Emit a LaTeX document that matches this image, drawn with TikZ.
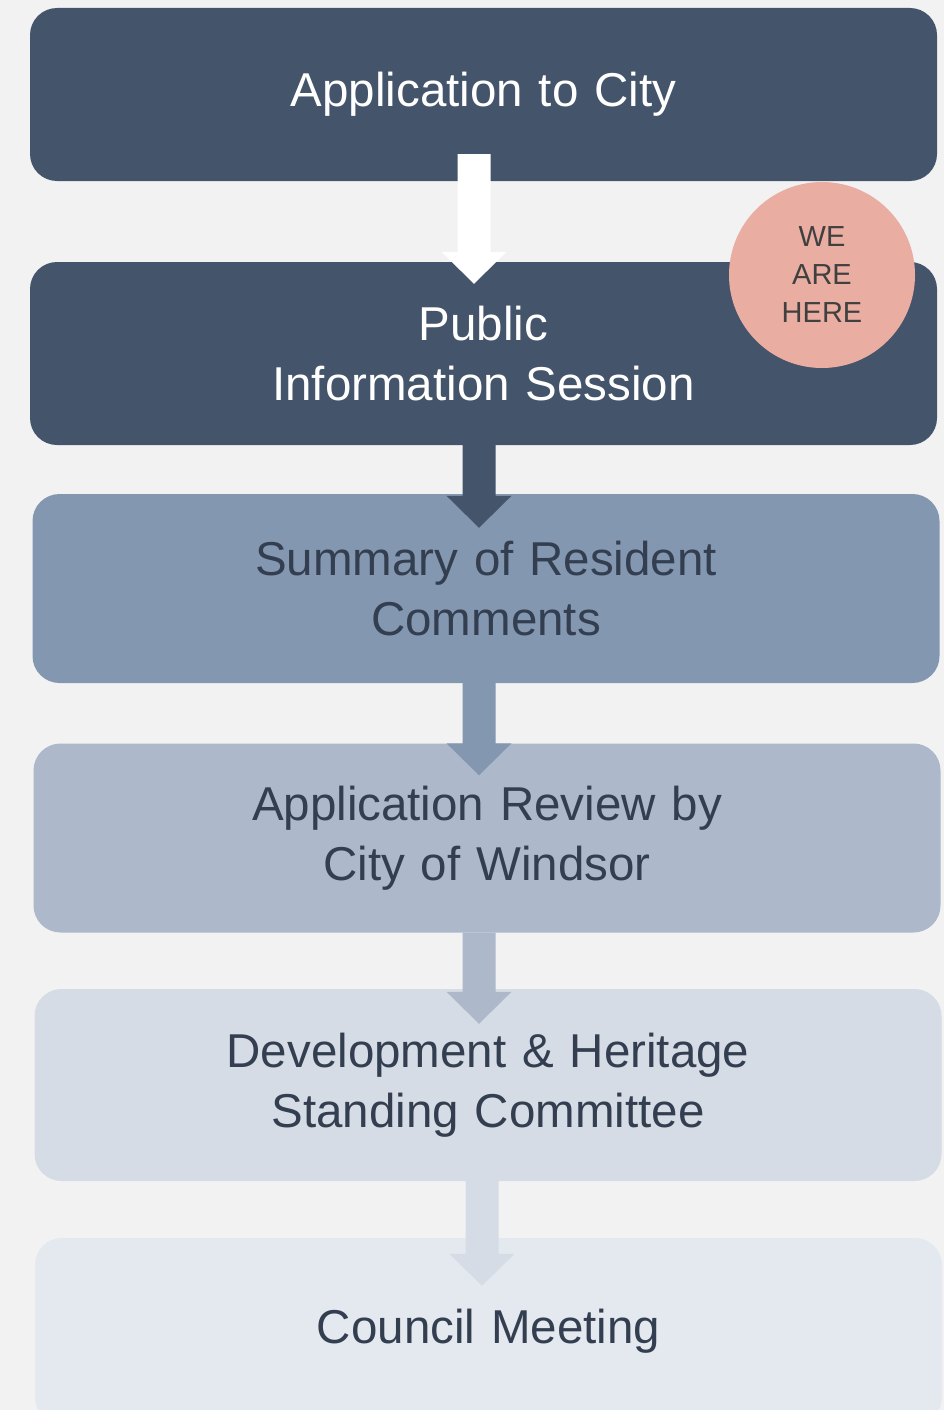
\documentclass[tikz,border=0pt]{standalone}
\usepackage{fontspec}
\setmainfont{Liberation Sans}
\usetikzlibrary{calc}

\definecolor{slate}{HTML}{44546A}
\definecolor{steel}{HTML}{8497B0}
\definecolor{mist}{HTML}{ADB9CA}
\definecolor{haze}{HTML}{D6DCE5}
\definecolor{frost}{HTML}{E4E8EF}
\definecolor{ink}{HTML}{333F50}
\definecolor{salmon}{HTML}{EAADA2}
\definecolor{paper}{HTML}{F2F2F2}

% block arrow: colour, top of shaft, tip
\newcommand{\blockarrow}[3]{%
  \fill[#1] ($(#2)+(-16.5,0)$) -- ($(#3)+(-16.5,-32)$) -- ($(#3)+(-32.5,-32)$) -- (#3)
    -- ($(#3)+(32.5,-32)$) -- ($(#3)+(16.5,-32)$) -- ($(#2)+(16.5,0)$) -- cycle;}

\begin{document}
\begin{tikzpicture}[x=1pt,y=-1pt,
  stage/.style={rounded corners=27pt, minimum width=907pt, text width=880pt, align=center, inner sep=0pt, font=\fontsize{47.5}{60}\selectfont},
  here/.style={circle, fill=salmon, minimum size=186pt, inner sep=0pt, align=center, text=black!75, font=\fontsize{29}{38}\selectfont}]
    \clip (0,0) rectangle (944,1410);
    \fill[paper] (0,0) rectangle (944,1410);

    \node[stage, fill=slate, text=white, minimum height=173pt] (app) at (483.5,94.5) {\raisebox{-3pt}{Application to City}};
    \node[stage, fill=slate, text=white, minimum height=183pt] (pis) at (483.5,353.5) {Public\\Information Session};
    \node[stage, fill=steel, text=ink, minimum height=189pt] (sum) at (486,588.5) {Summary of Resident\\Comments};
    \node[stage, fill=mist, text=ink, minimum height=189pt] (rev) at (487,838) {Application Review by\\City of Windsor};
    \node[stage, fill=haze, text=ink, minimum height=192pt] (dev) at (488,1085) {Development \& Heritage\\Standing Committee};
    \node[stage, fill=frost, text=ink, minimum height=186pt] (cnl) at (488.5,1331) {Council Meeting};

    \coordinate (a1s) at ($(app.south)+(-9.5,-27)$);
    \coordinate (a1t) at ($(pis.north)+(-9.5,22)$);
    \coordinate (a2s) at ($(pis.south)+(-4.5,0)$);
    \coordinate (a2t) at ($(sum.north)+(-7,34)$);
    \coordinate (a3s) at ($(sum.south)+(-7,0)$);
    \coordinate (a3t) at ($(rev.north)+(-8,32)$);
    \coordinate (a4s) at ($(rev.south)+(-8,0)$);
    \coordinate (a4t) at ($(dev.north)+(-9,35)$);
    \coordinate (a5s) at ($(dev.south)+(-6,0)$);
    \coordinate (a5t) at ($(cnl.north)+(-6.5,48)$);

    \blockarrow{white}{a1s}{a1t}
    \blockarrow{slate}{a2s}{a2t}
    \blockarrow{steel}{a3s}{a3t}
    \blockarrow{mist}{a4s}{a4t}
    \blockarrow{haze}{a5s}{a5t}

    \node[here] (mark) at (822,275) {WE\\ARE\\HERE};
\end{tikzpicture}
\end{document}
